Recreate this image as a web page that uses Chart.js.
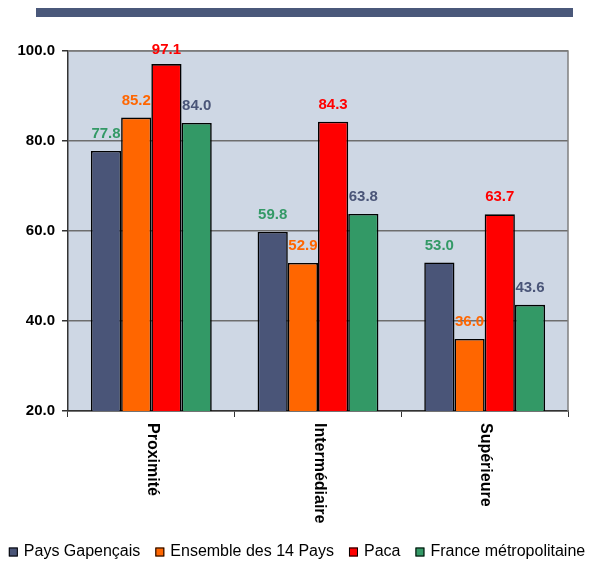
<!DOCTYPE html>
<html>
<head>
<meta charset="utf-8">
<script src="https://cdn.jsdelivr.net/npm/chart.js@4.4.1/dist/chart.umd.min.js"></script>
<style>
  html, body { margin: 0; padding: 0; background: #ffffff; }
  #wrap { width: 594px; height: 562px; }
</style>
</head>
<body>
<div id="wrap"><canvas id="grafico"></canvas></div>
<script>
// Données du graphique
const categories = ['Proximité', 'Intermédiaire', 'Supérieure'];
const series = ['Pays Gapençais', 'Ensemble des 14 Pays', 'Paca', 'France métropolitaine'];
const paysGapencais = [77.8, 59.8, 53.0];
const ensemble14Pays = [85.2, 52.9, 36.0];
const paca = [97.1, 84.3, 63.7];
const franceMetro = [84.0, 63.8, 43.6];
const yTicks = [20, 40, 60, 80, 100];

const couleurs = ['#4A5578', '#FF6600', '#FF0000', '#339966'];
const couleursEtiquettes = ['#339966', '#FF6600', '#FF0000', '#4A5578'];
const police = "'Liberation Sans', Arial, sans-serif";

// Fond de la zone de tracé + bandeau du haut
const fondPlugin = {
    id: 'fond',
    beforeDraw(chart) {
        const { ctx, chartArea: a } = chart;
        ctx.save();
        ctx.fillStyle = '#4A587A';
        ctx.fillRect(36, 8, 537, 9);
        ctx.fillStyle = '#CED7E4';
        ctx.fillRect(a.left, a.top, a.right - a.left, a.bottom - a.top);
        ctx.restore();
    },
    afterDatasetsDraw(chart) {
        const { ctx, chartArea: a } = chart;
        ctx.save();
        ctx.strokeStyle = '#808080';
        ctx.lineWidth = 1.5;
        ctx.beginPath();
        ctx.moveTo(a.left, a.top);
        ctx.lineTo(a.right, a.top);
        ctx.lineTo(a.right, a.bottom);
        ctx.stroke();
        ctx.restore();
    }
};

// Étiquettes de valeurs, libellés verticaux et légende
const etiquettesPlugin = {
    id: 'etiquettes',
    afterDraw(chart) {
        const { ctx } = chart;
        ctx.save();
        ctx.font = 'bold 15px ' + police;
        ctx.textAlign = 'center';
        ctx.textBaseline = 'middle';
        chart.data.datasets.forEach((ds, i) => {
            const meta = chart.getDatasetMeta(i);
            meta.data.forEach((bar, j) => {
                ctx.fillStyle = couleursEtiquettes[i];
                const y = Math.max(bar.y - 17, chart.chartArea.top - 1);
                ctx.fillText(ds.data[j].toFixed(1), bar.x, y);
            });
        });
        const xScale = chart.scales.x;
        ctx.fillStyle = '#000000';
        ctx.font = 'bold 16px ' + police;
        ctx.textAlign = 'left';
        chart.data.labels.forEach((lab, j) => {
            const x = xScale.getPixelForTick(j);
            ctx.save();
            ctx.translate(x + 1, chart.chartArea.bottom + 12);
            ctx.rotate(Math.PI / 2);
            ctx.fillText(lab, 0, 0);
            ctx.restore();
        });

        // légende sur une seule ligne, centrée
        ctx.font = '16px ' + police;
        ctx.textBaseline = 'middle';
        const yLeg = 552;
        const largeurs = chart.data.datasets.map(ds => 15 + ctx.measureText(ds.label).width);
        const total = largeurs.reduce((s, w) => s + w, 0) + 15 * (largeurs.length - 1);
        let x = (chart.width - total) / 2;
        chart.data.datasets.forEach((ds, i) => {
            ctx.fillStyle = ds.backgroundColor;
            ctx.fillRect(x, yLeg - 4.5, 9, 9);
            ctx.strokeStyle = '#000000';
            ctx.lineWidth = 1;
            ctx.strokeRect(x + 0.5, yLeg - 4, 8, 8);
            ctx.fillStyle = '#000000';
            ctx.fillText(ds.label, x + 15, yLeg);
            x += largeurs[i] + 15;
        });
        ctx.restore();
    }
};

const valeurs = [paysGapencais, ensemble14Pays, paca, franceMetro];

new Chart(document.getElementById('grafico').getContext('2d'), {
    type: 'bar',
    data: {
        labels: categories,
        datasets: series.map((nom, i) => ({
            label: nom,
            data: valeurs[i],
            backgroundColor: couleurs[i],
            borderColor: '#000000',
            borderWidth: 1.6,
            borderSkipped: false,
            categoryPercentage: 0.725,
            barPercentage: 1.0
        }))
    },
    options: {
        responsive: true,
        maintainAspectRatio: false,
        animation: false,
        devicePixelRatio: 1,
        layout: { padding: { top: 51, right: 0, left: 0, bottom: 0 } },
        plugins: {
            tooltip: { enabled: false },
            legend: { display: false }
        },
        scales: {
            x: {
                offset: true,
                ticks: { display: false },
                grid: {
                    display: true,
                    drawOnChartArea: false,
                    tickLength: 6,
                    tickColor: '#333333',
                    offset: true
                },
                border: { color: '#333333', width: 1.5 },
                afterFit(scale) { scale.height = 151; }
            },
            y: {
                min: 20,
                max: 100,
                afterBuildTicks(scale) { scale.ticks = yTicks.map(v => ({ value: v })); },
                ticks: {
                    color: '#000000',
                    font: { family: police, size: 15, weight: 'bold' },
                    padding: 7,
                    callback: v => Number(v).toFixed(1)
                },
                grid: {
                    color: '#6E6E6E',
                    lineWidth: 1.5,
                    tickLength: 6,
                    tickColor: '#333333'
                },
                border: { color: '#333333', width: 1.5 },
                afterFit(scale) { scale.width = 68; }
            },
            marge: {
                position: 'right',
                min: 20,
                max: 100,
                ticks: { display: false },
                grid: { display: false },
                border: { display: false },
                afterFit(scale) { scale.width = 26; }
            }
        }
    },
    plugins: [fondPlugin, etiquettesPlugin]
});
</script>
</body>
</html>
